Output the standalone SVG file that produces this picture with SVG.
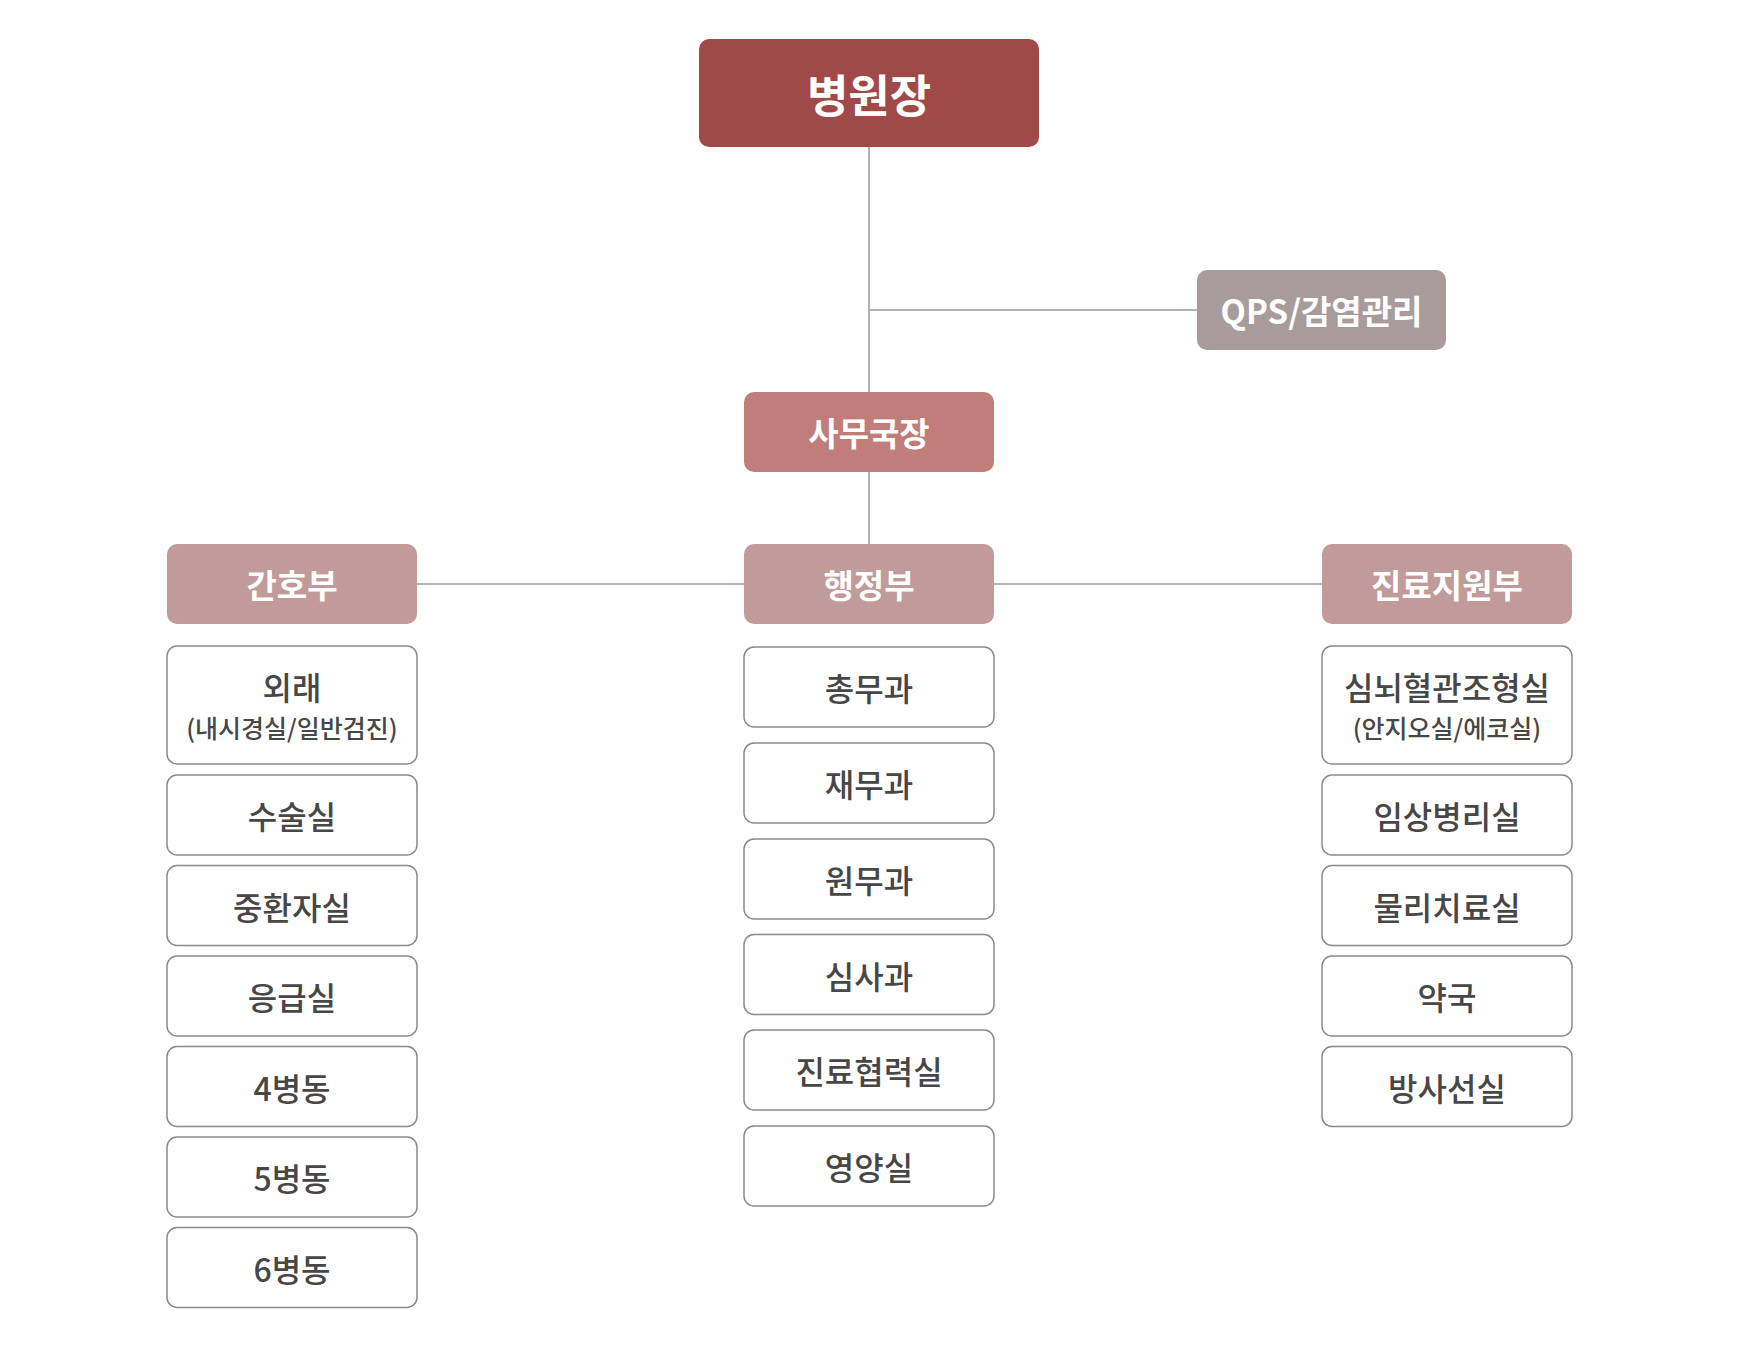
<svg xmlns="http://www.w3.org/2000/svg" width="1737" height="1351" viewBox="0 0 1737 1351">
<style>
  .lead { fill: #9f4a48; }
  .sec { fill: #c07d79; }
  .dept { fill: #c09b99; }
  .qps { fill: #a89b9b; }
  .child { fill: #ffffff; stroke: #8a8a8a; stroke-width: 1.5; }
  .ht { font-family: "Noto Sans CJK KR", "Noto Sans", sans-serif; font-weight: 700; fill: #ffffff; text-anchor: middle; dominant-baseline: central; }
  .ct { font-family: "Noto Sans CJK KR", "Noto Sans", sans-serif; font-weight: 500; fill: #474747; text-anchor: middle; dominant-baseline: central; font-size: 32px; }
  .st { font-size: 25px; }
  .conn { stroke: #9a9a9a; stroke-width: 1.5; fill: none; }
</style>
<rect width="1737" height="1351" fill="#ffffff"/>
<g id="connectors">
  <line class="conn" x1="869" y1="147" x2="869" y2="392"/>
  <line class="conn" x1="869" y1="310" x2="1197" y2="310"/>
  <line class="conn" x1="869" y1="472" x2="869" y2="544"/>
  <line class="conn" x1="417" y1="584" x2="744" y2="584"/>
  <line class="conn" x1="994" y1="584" x2="1322" y2="584"/>
</g>
<g id="n-director">
  <rect class="lead" x="699" y="39" width="340" height="108" rx="10"/>
  <text class="ht" x="869" y="93" font-size="45">병원장</text>
</g>
<g id="n-qps">
  <rect class="qps" x="1197" y="270" width="249" height="80" rx="10"/>
  <text class="ht" x="1321.5" y="310" font-size="33">QPS/감염관리</text>
</g>
<g id="n-secretary">
  <rect class="sec" x="744" y="392" width="250" height="80" rx="10"/>
  <text class="ht" x="869" y="432" font-size="33">사무국장</text>
</g>
<g id="n-nursing">
  <rect class="dept" x="167" y="544" width="250" height="80" rx="10"/>
  <text class="ht" x="292" y="584" font-size="33">간호부</text>
</g>
<g id="n-admin">
  <rect class="dept" x="744" y="544" width="250" height="80" rx="10"/>
  <text class="ht" x="869" y="584" font-size="33">행정부</text>
</g>
<g id="n-support">
  <rect class="dept" x="1322" y="544" width="250" height="80" rx="10"/>
  <text class="ht" x="1447" y="584" font-size="33">진료지원부</text>
</g>
<g id="n-outpatient">
  <rect class="child" x="167" y="646" width="250" height="118" rx="10"/>
  <text class="ct" x="292" y="686">외래</text>
  <text class="ct st" x="292" y="727">(내시경실/일반검진)</text>
</g>
<g id="n-surgery">
  <rect class="child" x="167" y="775" width="250" height="80" rx="10"/>
  <text class="ct" x="292" y="815">수술실</text>
</g>
<g id="n-icu">
  <rect class="child" x="167" y="865.5" width="250" height="80" rx="10"/>
  <text class="ct" x="292" y="905.5">중환자실</text>
</g>
<g id="n-er">
  <rect class="child" x="167" y="956" width="250" height="80" rx="10"/>
  <text class="ct" x="292" y="996">응급실</text>
</g>
<g id="n-ward4">
  <rect class="child" x="167" y="1046.5" width="250" height="80" rx="10"/>
  <text class="ct" x="292" y="1086.5">4병동</text>
</g>
<g id="n-ward5">
  <rect class="child" x="167" y="1137" width="250" height="80" rx="10"/>
  <text class="ct" x="292" y="1177">5병동</text>
</g>
<g id="n-ward6">
  <rect class="child" x="167" y="1227.5" width="250" height="80" rx="10"/>
  <text class="ct" x="292" y="1267.5">6병동</text>
</g>
<g id="n-general">
  <rect class="child" x="744" y="647" width="250" height="80" rx="10"/>
  <text class="ct" x="869" y="687">총무과</text>
</g>
<g id="n-finance">
  <rect class="child" x="744" y="743" width="250" height="80" rx="10"/>
  <text class="ct" x="869" y="783">재무과</text>
</g>
<g id="n-patient">
  <rect class="child" x="744" y="839" width="250" height="80" rx="10"/>
  <text class="ct" x="869" y="879">원무과</text>
</g>
<g id="n-review">
  <rect class="child" x="744" y="934.5" width="250" height="80" rx="10"/>
  <text class="ct" x="869" y="974.5">심사과</text>
</g>
<g id="n-cooperation">
  <rect class="child" x="744" y="1030" width="250" height="80" rx="10"/>
  <text class="ct" x="869" y="1070">진료협력실</text>
</g>
<g id="n-nutrition">
  <rect class="child" x="744" y="1126" width="250" height="80" rx="10"/>
  <text class="ct" x="869" y="1166">영양실</text>
</g>
<g id="n-angio">
  <rect class="child" x="1322" y="646" width="250" height="118" rx="10"/>
  <text class="ct" x="1447" y="686">심뇌혈관조형실</text>
  <text class="ct st" x="1447" y="727">(안지오실/에코실)</text>
</g>
<g id="n-lab">
  <rect class="child" x="1322" y="775" width="250" height="80" rx="10"/>
  <text class="ct" x="1447" y="815">임상병리실</text>
</g>
<g id="n-physio">
  <rect class="child" x="1322" y="865.5" width="250" height="80" rx="10"/>
  <text class="ct" x="1447" y="905.5">물리치료실</text>
</g>
<g id="n-pharmacy">
  <rect class="child" x="1322" y="956" width="250" height="80" rx="10"/>
  <text class="ct" x="1447" y="996">약국</text>
</g>
<g id="n-radiology">
  <rect class="child" x="1322" y="1046.5" width="250" height="80" rx="10"/>
  <text class="ct" x="1447" y="1086.5">방사선실</text>
</g>
</svg>
